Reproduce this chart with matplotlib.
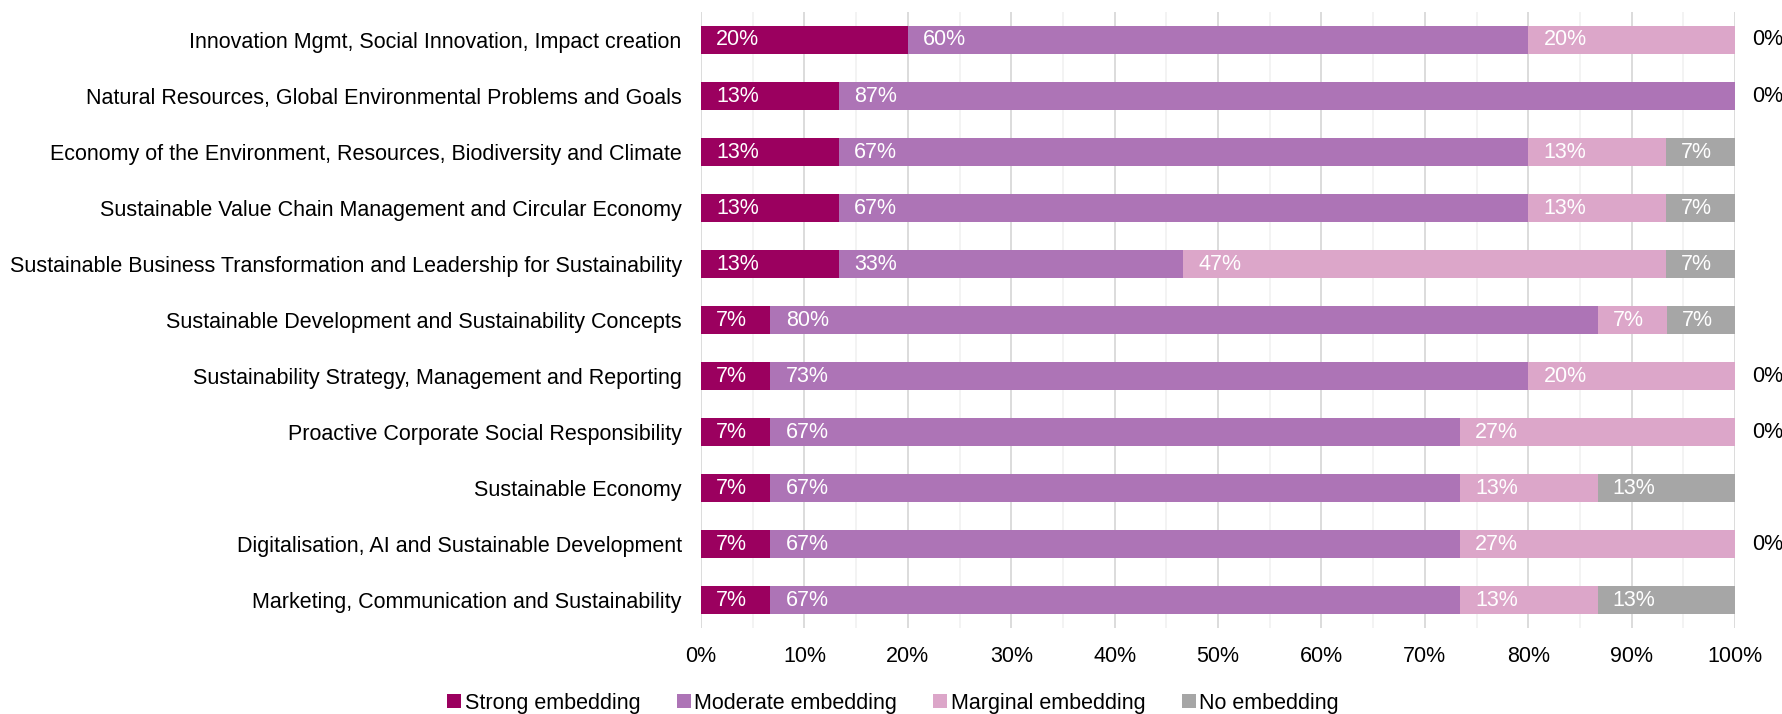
import matplotlib
matplotlib.use("Agg")
import matplotlib.pyplot as plt
from matplotlib.ticker import MultipleLocator, PercentFormatter

plt.rcParams["font.family"] = ["Liberation Sans", "DejaVu Sans"]

categorias = [
    "Innovation Mgmt, Social Innovation, Impact creation",
    "Natural Resources, Global Environmental Problems and Goals",
    "Economy of the Environment, Resources, Biodiversity and Climate",
    "Sustainable Value Chain Management and Circular Economy",
    "Sustainable Business Transformation and Leadership for Sustainability",
    "Sustainable Development and Sustainability Concepts",
    "Sustainability Strategy, Management and Reporting",
    "Proactive Corporate Social Responsibility",
    "Sustainable Economy",
    "Digitalisation, AI and Sustainable Development",
    "Marketing, Communication and Sustainability",
]

strong = [20, 13.3, 13.3, 13.3, 13.3, 6.7, 6.7, 6.7, 6.7, 6.7, 6.7]
moderate = [60, 86.7, 66.7, 66.7, 33.3, 80, 73.3, 66.7, 66.7, 66.7, 66.7]
marginal = [20, 0, 13.3, 13.3, 46.7, 6.7, 20, 26.7, 13.3, 26.7, 13.3]
nenhum = [0, 0, 6.7, 6.7, 6.7, 6.7, 0, 0, 13.3, 0, 13.3]

series = [
    ("Strong embedding", strong, "#9B005F"),
    ("Moderate embedding", moderate, "#AD74B6"),
    ("Marginal embedding", marginal, "#DCA6C9"),
    ("No embedding", nenhum, "#A6A6A6"),
]

fig = plt.figure(figsize=(17.83, 7.14), dpi=100)
ax = fig.add_axes([0.3932, 0.1204, 0.5799, 0.8628])

y = list(range(len(categorias)))
base = [0] * len(categorias)
fs = 15.5
usados = set()

for nome, vals, cor in series:
    ax.barh(y, vals, left=base, height=0.5, color=cor, label=nome, zorder=3)
    for i, v in enumerate(vals):
        x0 = base[i]
        if v > 0:
            ax.annotate(f"{v:.0f}%", (x0, i), xytext=(11, 0),
                        textcoords="offset points", ha="left", va="center",
                        color="white", fontsize=fs, zorder=4)
        else:
            # rotulo de 0% fica fora da barra, em preto
            chave = (round(min(x0, 100)), i)
            if chave in usados:
                continue
            usados.add(chave)
            ax.annotate("0%", (min(x0, 100), i), xytext=(12, 0),
                        textcoords="offset points", ha="left", va="center",
                        color="black", fontsize=fs, annotation_clip=False)
    base = [base[i] + vals[i] for i in range(len(base))]

ax.set_xlim(0, 100)
ax.set_ylim(len(categorias) - 0.5, -0.5)
ax.set_yticks(y)
ax.set_yticklabels(categorias, fontsize=fs)
ax.xaxis.set_major_locator(MultipleLocator(10))
ax.xaxis.set_minor_locator(MultipleLocator(5))
ax.xaxis.set_major_formatter(PercentFormatter(decimals=0))
ax.tick_params(axis="x", labelsize=fs, length=0, pad=13, which="both")
ax.tick_params(axis="y", length=0, pad=14)
ax.grid(axis="x", which="major", color="#D9D9D9", linewidth=1.3, zorder=0)
ax.grid(axis="x", which="minor", color="#F2F2F2", linewidth=1.3, zorder=0)
for s in ax.spines.values():
    s.set_visible(False)

fig.legend(loc="center", bbox_to_anchor=(893 / 1783, 1 - 703 / 714),
           ncol=4, frameon=False, fontsize=fs, handlelength=0.65,
           handleheight=0.65, handletextpad=0.15, columnspacing=1.7)

fig.savefig("out.png", dpi=100)
